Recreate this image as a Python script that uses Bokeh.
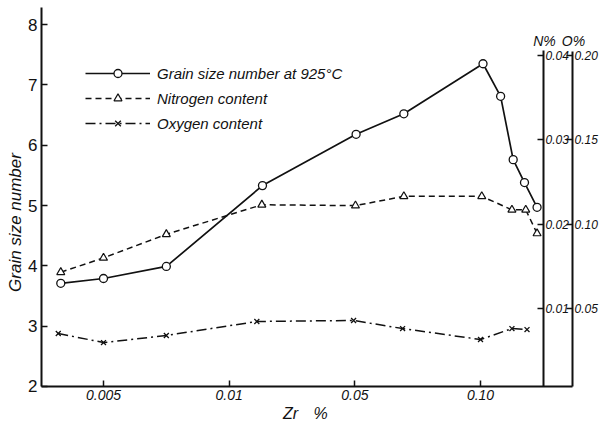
import math
from bokeh.plotting import figure
from bokeh.models import Range1d, LinearAxis, FixedTicker, Legend, LegendItem, Label
from bokeh.embed import file_html
from bokeh.resources import INLINE

# Zr % on the chart's stepped scale: tick labels at positions 1..4
zr_ticks = [1, 2, 3, 4]
zr_tick_labels = ["0.005", "0.01", "0.05", "0.10"]

grain_ticks = [2, 3, 4, 5, 6, 7, 8]
n_ticks = [0.01, 0.02, 0.03, 0.04]
n_tick_labels = ["0.01", "0.02", "0.03", "0.04"]
o_ticks = [0.05, 0.10, 0.15, 0.20]
o_tick_labels = ["0.05", "0.10", "0.15", "0.20"]

# Grain size number at 925 C
grain_x = [0.66, 1.0, 1.5, 2.265, 3.01, 3.39, 4.02, 4.16, 4.26, 4.35, 4.45]
grain_y = [3.71, 3.79, 3.99, 5.33, 6.18, 6.52, 7.35, 6.81, 5.76, 5.38, 4.97]

# Nitrogen content (N %)
n_x = [0.66, 1.0, 1.5, 2.26, 3.005, 3.39, 4.01, 4.25, 4.36, 4.45]
n_y = [0.0143, 0.0160, 0.0188, 0.0223, 0.0222, 0.0233, 0.0233, 0.0217, 0.0217, 0.0189]

# Oxygen content (O %)
o_x = [0.64, 1.0, 1.5, 2.22, 2.99, 3.38, 4.0, 4.25, 4.37]
o_y = [0.0352, 0.0298, 0.0340, 0.0423, 0.0429, 0.0381, 0.0316, 0.0381, 0.0375]

INK = "#111111"
FONT = "Liberation Sans"

# axis extents (data units)
X_LEFT, X_N, X_O = 0.5066, 4.501, 4.732
Y_BOTTOM, Y_TOP = 2, 8.28
N_BOTTOM, N_TOP = 0.00075, 0.0406
O_BOTTOM, O_TOP = 0.00375, 0.2024

p = figure(width=602, height=423,
           min_border_left=0, min_border_right=0, min_border_top=0, min_border_bottom=0,
           x_range=Range1d(0.1804, 4.9707), y_range=Range1d(1.3867, 8.398),
           x_axis_location=None, y_axis_location=None,
           output_backend="svg", toolbar_location=None)
p.extra_y_ranges = {"n": Range1d(-0.003637, 0.046523), "o": Range1d(-0.018185, 0.232615)}
p.grid.visible = False
p.outline_line_color = None
p.background_fill_color = "white"
p.border_fill_color = "white"


def style_axis(ax, size, italic=True, standoff=3):
    ax.major_tick_in = 6
    ax.major_tick_out = 0
    ax.minor_tick_line_color = None
    ax.axis_line_width = 2
    ax.axis_line_color = INK
    ax.major_tick_line_color = INK
    ax.major_tick_line_width = 1.5
    ax.major_label_standoff = standoff
    ax.major_label_text_font = FONT
    ax.major_label_text_font_style = "italic" if italic else "normal"
    ax.major_label_text_font_size = size
    ax.major_label_text_color = INK


x_axis = LinearAxis(fixed_location=Y_BOTTOM, bounds=(X_LEFT, X_O),
                    ticker=FixedTicker(ticks=zr_ticks),
                    major_label_overrides={t: l for t, l in zip(zr_ticks, zr_tick_labels)})
style_axis(x_axis, "14px", standoff=4)
p.add_layout(x_axis, "below")

y_axis = LinearAxis(fixed_location=X_LEFT, bounds=(Y_BOTTOM, Y_TOP),
                    ticker=FixedTicker(ticks=grain_ticks))
style_axis(y_axis, "17px", italic=False, standoff=4)
p.add_layout(y_axis, "left")

n_axis = LinearAxis(y_range_name="n", fixed_location=X_N, bounds=(N_BOTTOM, N_TOP),
                    ticker=FixedTicker(ticks=n_ticks),
                    major_label_overrides={t: l for t, l in zip(n_ticks, n_tick_labels)})
style_axis(n_axis, "12px", standoff=2)
p.add_layout(n_axis, "right")

o_axis = LinearAxis(y_range_name="o", fixed_location=X_O, bounds=(O_BOTTOM, O_TOP),
                    ticker=FixedTicker(ticks=o_ticks),
                    major_label_overrides={t: l for t, l in zip(o_ticks, o_tick_labels)})
style_axis(o_axis, "12px", standoff=2)
p.add_layout(o_axis, "right")

# series
gl = p.line(grain_x, grain_y, line_color=INK, line_width=1.7)
gm = p.scatter(grain_x, grain_y, marker="circle", size=8, fill_color="white",
               line_color=INK, line_width=1.3)

nl = p.line(n_x, n_y, y_range_name="n", line_color=INK, line_width=1.5, line_dash="6 4")
nm = p.scatter(n_x, n_y, y_range_name="n", marker="triangle", size=8, fill_color="white",
               line_color=INK, line_width=1.2)

ol = p.line(o_x, o_y, y_range_name="o", line_color=INK, line_width=1.5, line_dash="10 4 2 4")
om = p.scatter(o_x, o_y, y_range_name="o", marker="x", size=7, line_color=INK, line_width=1.3)

legend = Legend(items=[
    LegendItem(label="Grain size number at 925°C", renderers=[gl, gm]),
    LegendItem(label="Nitrogen content", renderers=[nl, nm]),
    LegendItem(label="Oxygen content", renderers=[ol, om]),
], location=(85, 290), glyph_width=65, glyph_height=20, label_height=20, spacing=5,
    padding=0, margin=0, label_standoff=7, border_line_color=None,
    background_fill_alpha=0, label_text_font=FONT, label_text_font_style="italic",
    label_text_font_size="15px", label_text_color=INK)
p.add_layout(legend)

label_kw = dict(x_units="screen", y_units="screen", text_font=FONT,
                text_font_style="italic", text_color=INK,
                text_align="center", text_baseline="middle")
p.add_layout(Label(x=15, y=201, text="Grain size number", angle=math.pi / 2,
                   text_font_size="17px", **label_kw))
p.add_layout(Label(x=290, y=10, text="Zr", text_font_size="16px", **label_kw))
p.add_layout(Label(x=320, y=10, text="%", text_font_size="16px", **label_kw))
p.add_layout(Label(x=544, y=383, text="N%", text_font_size="14px", **label_kw))
p.add_layout(Label(x=573, y=383, text="O%", text_font_size="14px", **label_kw))

open("out.html", "w").write(file_html(p, INLINE))
